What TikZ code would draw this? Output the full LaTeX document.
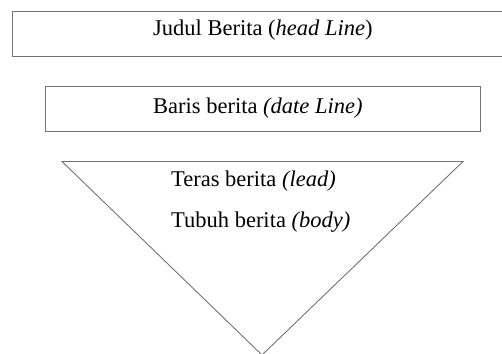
\documentclass[tikz,border=0pt]{standalone}
\usepackage{fontspec}
\setmainfont{Liberation Serif}
\begin{document}
\begin{tikzpicture}[x=1pt,y=1pt,
  frame/.style={draw=black!55,line width=0.9pt},
  lbl/.style={anchor=base west,inner sep=0pt,font=\fontsize{22.5}{27}\selectfont}]
\useasboundingbox (0,0) rectangle (502,353);
\begin{scope}
\clip (0,0) rectangle (502,353);
\draw[frame] (12,342) rectangle (506,297);
\draw[frame] (45,267) rectangle (480,222);
\draw[frame] (62,191.5) -- (463,191.5) -- (262,-2) -- cycle;
\end{scope}
\node[lbl] (judul) at (153,317) {Judul Berita (\textit{head Line})};
\node[lbl] (baris) at (153,239) {Baris berita \textit{(date Line)}};
\node[lbl] (teras) at (171,166) {Teras berita \textit{(lead)}};
\node[lbl] (tubuh) at (171,125) {Tubuh berita \textit{(body)}};
\end{tikzpicture}
\end{document}
